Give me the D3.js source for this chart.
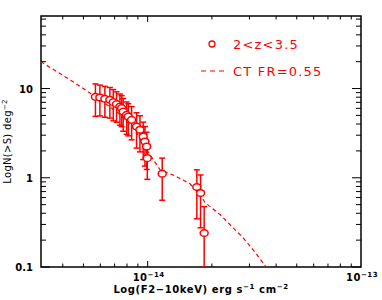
<!DOCTYPE html>
<html>
<head>
<meta charset="utf-8">
<script src="https://cdn.jsdelivr.net/npm/d3@7"></script>
<style>
body { margin: 0; background: #fff; }
svg { display: block; }
text { font-family: "DejaVu Sans", sans-serif; }
</style>
</head>
<body>
<div id="chart"></div>
<script>
// observed cumulative counts, 2<z<3.5
const flux = [5.69e-15, 5.97e-15, 6.30e-15, 6.65e-15, 6.90e-15, 7.15e-15, 7.41e-15, 7.55e-15,
    7.68e-15, 7.97e-15, 8.11e-15, 8.41e-15, 8.87e-15, 9.20e-15, 9.53e-15, 9.71e-15,
    9.89e-15, 9.96e-15, 1.17e-14, 1.70e-14, 1.77e-14, 1.84e-14];
const counts = [8.07, 7.93, 7.67, 7.47, 7.04, 6.69, 6.28, 6.03, 5.52, 5.07, 4.85, 4.46,
    3.75, 3.45, 2.90, 2.55, 2.24, 1.66, 1.11, 0.787, 0.675, 0.240];
const countErr = [3.2, 3.0, 2.9, 2.8, 2.7, 2.5, 2.4, 2.3, 2.2, 2.0, 1.9, 1.8,
    1.6, 1.5, 1.3, 1.2, 1.0, 0.7, 0.55, 0.44, 0.40, 0.235];

// CT model, FR=0.55
const modelFlux = [3.155e-15, 4.33e-15, 5.66e-15, 7.18e-15, 8.71e-15, 1.026e-14, 1.143e-14,
    1.343e-14, 1.58e-14, 1.76e-14, 1.86e-14, 2.19e-14, 2.51e-14, 2.80e-14, 3.12e-14, 3.59e-14];
const modelCounts = [20.0, 12.5, 8.19, 5.48, 3.45, 1.81, 1.23, 1.05, 0.857, 0.645, 0.525,
    0.385, 0.276, 0.213, 0.156, 0.1];

const yTickLabels = [0.1, 1, 10];
const xTickExp = [-14, -13];
const legendLabels = ['2<z<3.5', 'CT FR=0.55'];

const red = '#ff0000';

const chart = {
    width: 382,
    height: 300,
    margin: {left: 41, right: 21, top: 16, bottom: 33},

    draw() {
        let m = this.margin;
        let svg = d3.select('#chart').append('svg')
            .attr('width', this.width)
            .attr('height', this.height);

        let x = d3.scaleLog()
            .domain([Math.pow(10, -14.5), 1e-13])
            .range([m.left, this.width - m.right]);
        let y = d3.scaleLog()
            .domain([0.1, 65])
            .range([this.height - m.bottom, m.top]);

        svg.append('clipPath').attr('id', 'clip')
            .append('rect')
            .attr('x', m.left).attr('y', m.top)
            .attr('width', this.width - m.left - m.right)
            .attr('height', this.height - m.top - m.bottom);

        // minor / major ticks on all four sides, pointing inward
        let xMinor = [];
        for (let e = -15; e <= -14; e++)
            for (let k = 1; k <= 9; k++) xMinor.push(k * Math.pow(10, e));
        xMinor = xMinor.filter(v => v >= x.domain()[0] && v <= 1e-13);
        let yMinor = [];
        for (let e = -1; e <= 1; e++)
            for (let k = 1; k <= 9; k++) yMinor.push(k * Math.pow(10, e));
        yMinor = yMinor.filter(v => v <= 65);

        let x0 = m.left, x1 = this.width - m.right, y0 = this.height - m.bottom, y1 = m.top;
        let isMajor = v => Math.abs(Math.log10(v) - Math.round(Math.log10(v))) < 1e-6;
        let ticks = svg.append('g').attr('stroke', '#000').attr('stroke-width', 1);

        xMinor.forEach(v => {
            let len = isMajor(v) ? 6 : 3.5;
            ticks.append('line').attr('x1', x(v)).attr('x2', x(v)).attr('y1', y0).attr('y2', y0 - len);
            ticks.append('line').attr('x1', x(v)).attr('x2', x(v)).attr('y1', y1).attr('y2', y1 + len);
        });
        yMinor.forEach(v => {
            let len = isMajor(v) ? 9 : 5;
            ticks.append('line').attr('x1', x0).attr('x2', x0 + len).attr('y1', y(v)).attr('y2', y(v));
            ticks.append('line').attr('x1', x1).attr('x2', x1 - len).attr('y1', y(v)).attr('y2', y(v));
        });

        svg.append('rect')
            .attr('x', x0).attr('y', y1)
            .attr('width', x1 - x0).attr('height', y0 - y1)
            .attr('fill', 'none').attr('stroke', '#000').attr('stroke-width', 1.5);

        // tick labels
        svg.append('g').selectAll('text')
            .data(yTickLabels)
            .join('text')
            .attr('x', 33)
            .attr('y', d => y(d) + 4)
            .attr('text-anchor', 'end')
            .attr('font-size', 10)
            .attr('font-weight', 'bold')
            .text(d => d);

        let xl = svg.append('g').selectAll('text')
            .data(xTickExp)
            .join('text')
            .attr('x', d => x(Math.pow(10, d)) + 1)
            .attr('y', 281)
            .attr('text-anchor', 'middle')
            .attr('font-size', 10)
            .attr('font-weight', 'bold')
            .attr('letter-spacing', 0.5);
        xl.append('tspan').text('10');
        xl.append('tspan').attr('dy', -4).attr('font-size', 7).text(d => '\u2212' + Math.abs(d));

        // axis titles
        let xt = svg.append('text')
            .attr('x', (x0 + x1) / 2)
            .attr('y', 293)
            .attr('text-anchor', 'middle')
            .attr('font-size', 10)
            .attr('font-weight', 'bold')
            .attr('letter-spacing', 0.6);
        xt.append('tspan').text('Log(F2\u221210keV) erg s');
        xt.append('tspan').attr('dy', -4).attr('font-size', 7).text('\u22121');
        xt.append('tspan').attr('dy', 4).text(' cm');
        xt.append('tspan').attr('dy', -4).attr('font-size', 7).text('\u22122');

        let yt = svg.append('text')
            .attr('transform', 'translate(11,' + ((y0 + y1) / 2) + ') rotate(-90)')
            .attr('text-anchor', 'middle')
            .attr('font-size', 10)
            .attr('letter-spacing', 0.3);
        yt.append('tspan').text('LogN(>S) deg');
        yt.append('tspan').attr('dy', -4).attr('font-size', 7).text('\u22122');

        let plot = svg.append('g').attr('clip-path', 'url(#clip)');

        // model curve
        plot.append('path')
            .datum(modelFlux.map((f, i) => [f, modelCounts[i]]))
            .attr('fill', 'none')
            .attr('stroke', red)
            .attr('stroke-width', 1.2)
            .attr('stroke-dasharray', '4,3')
            .attr('d', d3.line().x(d => x(d[0])).y(d => y(d[1])));

        // error bars
        let pts = flux.map((f, i) => ({f: f, n: counts[i], e: countErr[i]}));
        let lo = d => y(Math.max(d.n - d.e, 0.01));
        let hi = d => y(d.n + d.e);
        let eb = plot.append('g').attr('stroke', red).attr('stroke-width', 1.5);
        eb.selectAll('.bar').data(pts).join('line')
            .attr('x1', d => x(d.f)).attr('x2', d => x(d.f))
            .attr('y1', lo).attr('y2', hi);
        eb.selectAll('.capHi').data(pts).join('line')
            .attr('x1', d => x(d.f) - 3).attr('x2', d => x(d.f) + 3)
            .attr('y1', hi).attr('y2', hi);
        eb.selectAll('.capLo').data(pts).join('line')
            .attr('x1', d => x(d.f) - 3).attr('x2', d => x(d.f) + 3)
            .attr('y1', lo).attr('y2', lo);

        plot.append('g').selectAll('ellipse')
            .data(pts)
            .join('ellipse')
            .attr('cx', d => x(d.f))
            .attr('cy', d => y(d.n))
            .attr('rx', 4)
            .attr('ry', 3.3)
            .attr('fill', '#fff')
            .attr('stroke', red)
            .attr('stroke-width', 1.5);

        // legend
        let lg = svg.append('g');
        lg.append('circle')
            .attr('cx', 212).attr('cy', 44).attr('r', 3)
            .attr('fill', 'none').attr('stroke', red).attr('stroke-width', 1.3);
        lg.append('line')
            .attr('x1', 201).attr('x2', 224).attr('y1', 71).attr('y2', 71)
            .attr('stroke', red).attr('stroke-width', 1.2).attr('stroke-dasharray', '5,4');
        lg.selectAll('text').data(legendLabels).join('text')
            .attr('x', 233)
            .attr('y', (d, i) => 48.5 + i * 27)
            .attr('fill', red)
            .attr('font-size', 13)
            .attr('letter-spacing', 1.2)
            .text(d => d);
    }
};

chart.draw();
</script>
</body>
</html>
